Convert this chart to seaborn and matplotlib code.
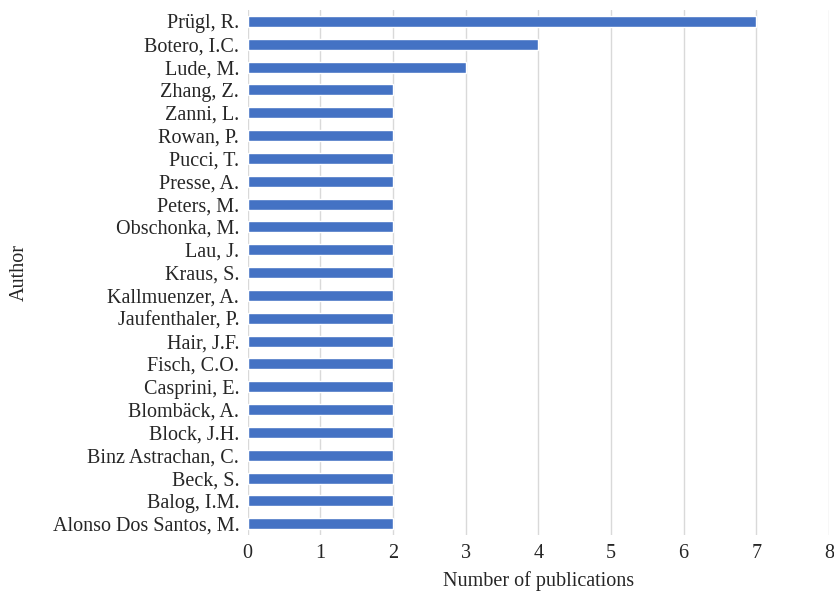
import matplotlib
matplotlib.use("Agg")
import matplotlib.pyplot as plt
import seaborn as sns
import pandas as pd

authors = ["Prügl, R.", "Botero, I.C.", "Lude, M.", "Zhang, Z.", "Zanni, L.", "Rowan, P.",
           "Pucci, T.", "Presse, A.", "Peters, M.", "Obschonka, M.", "Lau, J.", "Kraus, S.",
           "Kallmuenzer, A.", "Jaufenthaler, P.", "Hair, J.F.", "Fisch, C.O.", "Casprini, E.",
           "Blombäck, A.", "Block, J.H.", "Binz Astrachan, C.", "Beck, S.", "Balog, I.M.",
           "Alonso Dos Santos, M."]
publications = [7, 4, 3, 2, 2, 2, 2, 2, 2, 2, 2, 2, 2, 2, 2, 2, 2, 2, 2, 2, 2, 2, 2]
x_ticks = [0, 1, 2, 3, 4, 5, 6, 7, 8]

df = pd.DataFrame({"Author": authors, "Number of publications": publications})

sns.set_theme(style="white")
plt.rcParams['font.family'] = ['Liberation Serif', 'DejaVu Serif']

fig = plt.figure(figsize=(8.34, 5.92), dpi=100)
ax = fig.add_axes([0.297, 0.096, 0.697, 0.887])
sns.barplot(data=df, x="Number of publications", y="Author", color="#4472C4",
            saturation=1, width=0.48, ax=ax, orient="h")
ax.set_xlim(0, 8)
ax.set_ylim(len(authors) - 0.5, -0.5)
ax.set_xticks(x_ticks)
ax.xaxis.grid(True, color="#D9D9D9", linewidth=1)
ax.set_axisbelow(True)
for s in ax.spines.values():
    s.set_visible(False)
ax.tick_params(axis="both", length=0, labelsize=14.5, colors="#262626")
ax.tick_params(axis="x", pad=6)
ax.tick_params(axis="y", pad=6)
ax.set_xlabel("Number of publications", fontsize=14.5, color="#262626", labelpad=6)
ax.set_ylabel("Author", fontsize=14.5, color="#262626")
ax.yaxis.set_label_coords(-0.376, 0.5)
fig.savefig("out.png", dpi=100)
